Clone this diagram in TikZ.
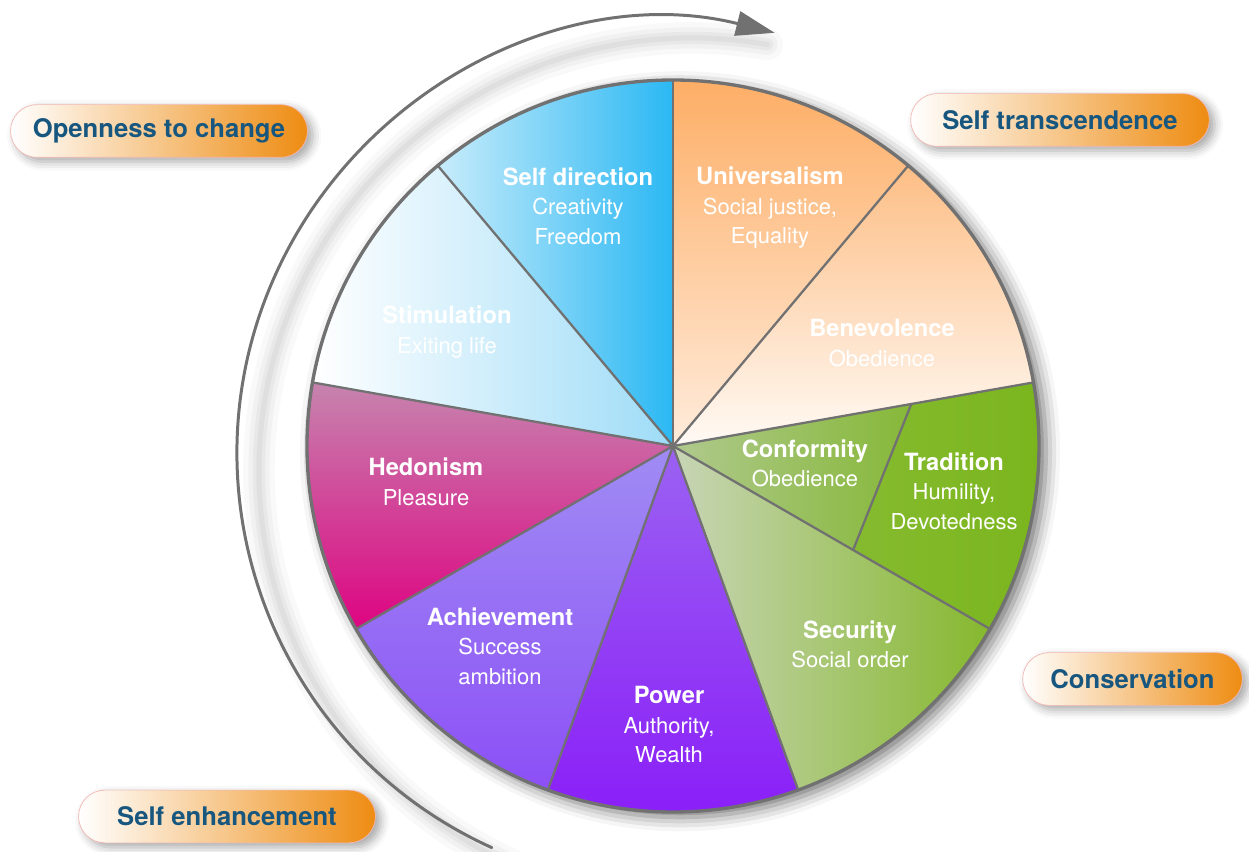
\documentclass[tikz,border=0pt]{standalone}
\usepackage{fontspec}
\setmainfont{TeX Gyre Heros}
\usetikzlibrary{arrows.meta,shadows.blur}

\definecolor{rim}{HTML}{717171}
\definecolor{pillblue}{HTML}{17577F}
\definecolor{pillorange}{HTML}{EE8C12}
\definecolor{pillrim}{HTML}{F2B7B2}

\newcommand{\vtitle}[1]{{\fontsize{13.5}{16.8}\selectfont\bfseries #1}}

\begin{document}
\begin{tikzpicture}[x=0.02cm,y=0.02cm,line join=round,line cap=round,
	value/.style={text=white,align=center,font=\fontsize{12.5}{16.8}\selectfont},
	pill/.style={draw=pillrim,line width=0.4pt,rounded corners=15pt,minimum height=30pt,
		left color=white,right color=pillorange,text=pillblue,
		font=\fontsize{14.6}{17}\selectfont\bfseries,
		blur shadow={shadow xshift=3pt,shadow yshift=-2.5pt,shadow blur radius=5pt,shadow opacity=35}}]
	\useasboundingbox (-673,-406) rectangle (576,446);
	\coordinate (O) at (0,0);
	% soft shadow under the turning arrow
	\foreach \w/\o in {18/.025,12/.03,7/.035,3/.04}
	\draw[line width=\w pt,black,opacity=\o] ([shift={(19,-25)}]245.7:433) arc[start angle=245.7,end angle=80,radius=433];
	% wheel
	\fill[white,blur shadow={shadow xshift=4pt,shadow yshift=-3pt,shadow blur radius=8pt,shadow opacity=55}] (O) circle[radius=366];
	\shade[top color={rgb,255:red,253;green,174;blue,102},bottom color={rgb,255:red,255;green,236;blue,220}] (O) -- (50:366) arc[start angle=50,end angle=90,radius=366] -- cycle;
	\shade[top color={rgb,255:red,253;green,190;blue,134},bottom color={rgb,255:red,255;green,250;blue,245}] (O) -- (10:366) arc[start angle=10,end angle=50,radius=366] -- cycle;
	\shade[left color={rgb,255:red,144;green,192;blue,64},right color={rgb,255:red,122;green,181;blue,29}] (O) -- (-30:366) arc[start angle=-30,end angle=10,radius=366] -- cycle;
	\shade[left color={rgb,255:red,176;green,201;blue,142},right color={rgb,255:red,134;green,184;blue,56}] (O) -- (10:242) -- (-30:208) -- cycle;
	\shade[left color={rgb,255:red,200;green,213;blue,182},right color={rgb,255:red,134;green,184;blue,46}] (O) -- (-70:366) arc[start angle=-70,end angle=-30,radius=366] -- cycle;
	\shade[top color={rgb,255:red,155;green,98;blue,242},bottom color={rgb,255:red,138;green,30;blue,248}] (O) -- (-110:366) arc[start angle=-110,end angle=-70,radius=366] -- cycle;
	\shade[top color={rgb,255:red,160;green,140;blue,244},bottom color={rgb,255:red,140;green,79;blue,246}] (O) -- (-150:366) arc[start angle=-150,end angle=-110,radius=366] -- cycle;
	\shade[top color={rgb,255:red,198;green,132;blue,174},bottom color={rgb,255:red,222;green,4;blue,130}] (O) -- (170:366) arc[start angle=170,end angle=210,radius=366] -- cycle;
	\shade[left color=white,right color={rgb,255:red,158;green,220;blue,247}] (O) -- (130:366) arc[start angle=130,end angle=170,radius=366] -- cycle;
	\shade[left color={rgb,255:red,200;green,236;blue,251},right color={rgb,255:red,43;green,184;blue,243}] (O) -- (90:366) arc[start angle=90,end angle=130,radius=366] -- cycle;
	\foreach \a in {90,50,10,-30,-70,-110,-150,170,130}
	\draw[rim,line width=1.3pt] (O) -- (\a:366);
	\draw[rim,line width=1.3pt] (10:242) -- (-30:208);
	\draw[rim,line width=1.9pt] (O) circle[radius=366];
	% values
	\node[value] (univ) at (97,238) {\vtitle{Universalism}\\Social justice,\\Equality};
	\node[value] (selfdir) at (-95,240) {\vtitle{Self direction}\\Creativity\\Freedom};
	\node[value] (stim) at (-226,114) {\vtitle{Stimulation}\\Exiting life};
	\node[value] (benev) at (209,103) {\vtitle{Benevolence}\\Obedience};
	\node[value] (hedon) at (-247,-36) {\vtitle{Hedonism}\\Pleasure};
	\node[value] (conf) at (132,-17.5) {\vtitle{Conformity}\\Obedience};
	\node[value] (trad) at (281,-45) {\vtitle{Tradition}\\Humility,\\Devotedness};
	\node[value] (achiev) at (-173,-200) {\vtitle{Achievement}\\Success\\ambition};
	\node[value] (secu) at (177,-198.5) {\vtitle{Security}\\Social order};
	\node[value] (power) at (-4,-279) {\vtitle{Power}\\Authority,\\Wealth};
	% turning arrow
	\draw[rim,line width=1.7pt,-{Triangle[length=22pt,width=14pt]}] ([shift={(-3,-7)}]245.7:433) arc[start angle=245.7,end angle=76,radius=433];
	% higher order groups
	\node[pill,minimum width=169pt] (open) at (-514,315) {Openness to change};
	\node[pill,minimum width=170pt] (trans) at (387,326) {Self transcendence};
	\node[pill,minimum width=125pt] (cons) at (459.5,-233) {Conservation};
	\node[pill,minimum width=169pt] (enh) at (-446,-370.5) {Self enhancement};
\end{tikzpicture}
\end{document}
